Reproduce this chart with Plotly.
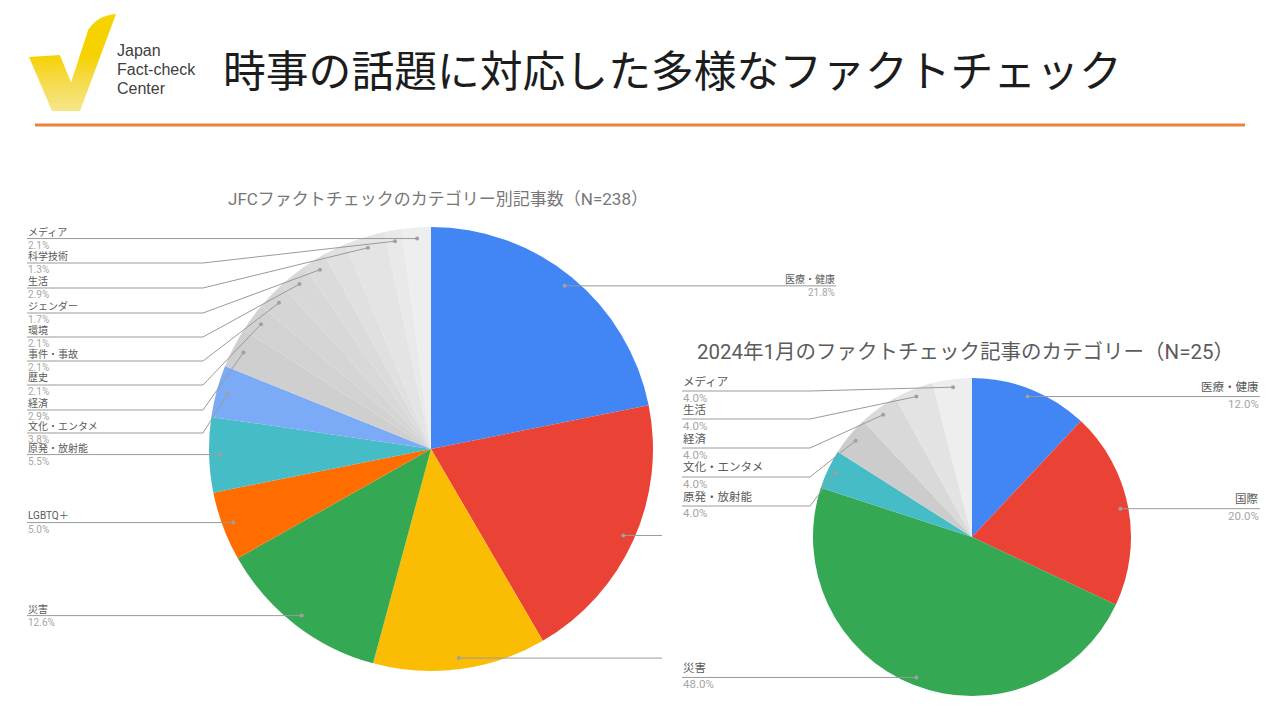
import math
import plotly.graph_objects as go

W, H = 1280, 720
OFF = 8  # the page body has an 8px margin

# ---------------- data ----------------
main_title = "時事の話題に対応した多様なファクトチェック"
logo_lines = ["Japan", "Fact-check", "Center"]

jfc_title = "JFCファクトチェックのカテゴリー別記事数（N=238）"
jfc_categories = ["医療・健康", "国際", "政治", "災害", "LGBTQ＋", "原発・放射能", "文化・エンタメ",
                  "経済", "歴史", "事件・事故", "環境", "ジェンダー", "その他", "生活", "科学技術", "メディア"]
jfc_counts = [52, 47, 30, 30, 12, 13, 9, 7, 5, 5, 5, 4, 4, 7, 3, 5]
jfc_colors = ["#4285F4", "#EA4335", "#FBBC04", "#34A853", "#FF6D01", "#46BDC6", "#7BAAF7",
              "#cfcfcf", "#d2d2d2", "#d5d5d5", "#d8d8d8", "#dbdbdb", "#e0e0e0", "#e4e4e4", "#e9e9e9", "#eeeeee"]

jan_title = "2024年1月のファクトチェック記事のカテゴリー（N=25）"
jan_categories = ["医療・健康", "国際", "災害", "原発・放射能", "文化・エンタメ", "経済", "生活", "メディア"]
jan_counts = [3, 5, 12, 1, 1, 1, 1, 1]
jan_colors = ["#4285F4", "#EA4335", "#34A853", "#46BDC6", "#cccccc", "#d9d9d9", "#e3e3e3", "#eeeeee"]

# label layout (pixel rows of the leader lines; None = straight from the slice dot)
jfc_left_rows = {"メディア": None, "科学技術": 263, "生活": 288, "ジェンダー": 313, "環境": 337,
                 "事件・事故": 361, "歴史": 385, "経済": 410, "文化・エンタメ": 433,
                 "原発・放射能": None, "LGBTQ＋": None, "災害": None}
jfc_right_rows = {"医療・健康": None}
jfc_clipped = ["国際", "政治"]  # their labels are hidden behind the second chart

jan_left_rows = {"メディア": 391, "生活": 419, "経済": 448, "文化・エンタメ": 477,
                 "原発・放射能": 506, "災害": None}
jan_right_rows = {"医療・健康": None, "国際": None}

# ---------------- helpers ----------------
def px(x):
    return (x - OFF) / W


def py(y):
    return 1 - (y - OFF) / H


fig = go.Figure()
shapes = []
annotations = []

LINE_C = "#9a9a9a"
NAME_C = "#5a5a5a"
PCT_C = "#a6a6a6"
FONT = "Roboto, 'Noto Sans CJK JP', sans-serif"


def txt(x, y, s, size, color, anchor="left", family=FONT):
    annotations.append(dict(x=px(x), y=py(y), text=s, showarrow=False, xref="paper", yref="paper",
                            xanchor=anchor, yanchor="middle", borderpad=0,
                            font=dict(size=size, color=color, family=family)))


def add_pie(cats, counts, colors, cx, cy, r, left_rows, right_rows, clipped,
            left_x, knee_x, right_x, clip_x, fsize, name_dy, pct_dy):
    fig.add_trace(go.Pie(
        labels=cats, values=counts, sort=False, direction="clockwise", rotation=0,
        marker=dict(colors=colors, line=dict(width=0)),
        textinfo="none", hoverinfo="label+percent", showlegend=False,
        domain=dict(x=[px(cx - r), px(cx + r)], y=[py(cy + r), py(cy - r)]),
    ))
    total = sum(counts)
    cum = 0
    for cat, v in zip(cats, counts):
        mid = (cum + v / 2) / total
        cum += v
        th = 2 * math.pi * mid
        rd = 0.95 * r
        dx_, dy_ = cx + rd * math.sin(th), cy - rd * math.cos(th)
        pct = f"{100 * v / total:.1f}%"
        if cat in left_rows:
            ly = left_rows[cat]
            if ly is None:
                path = f"M {px(left_x)} {py(dy_)} L {px(dx_)} {py(dy_)}"
                ly = dy_
            else:
                path = (f"M {px(left_x)} {py(ly)} L {px(knee_x)} {py(ly)} "
                        f"L {px(dx_)} {py(dy_)}")
            shapes.append(dict(type="path", path=path, xref="paper", yref="paper",
                               line=dict(color=LINE_C, width=1)))
            txt(left_x, ly - name_dy, cat, fsize, NAME_C)
            txt(left_x, ly + pct_dy, pct, fsize, PCT_C)
        elif cat in right_rows:
            ly = dy_
            shapes.append(dict(type="path", path=f"M {px(dx_)} {py(ly)} L {px(right_x)} {py(ly)}",
                               xref="paper", yref="paper", line=dict(color=LINE_C, width=1)))
            txt(right_x, ly - name_dy, cat, fsize, NAME_C, "right")
            txt(right_x, ly + pct_dy, pct, fsize, PCT_C, "right")
        elif cat in clipped:
            shapes.append(dict(type="path", path=f"M {px(dx_)} {py(dy_)} L {px(clip_x)} {py(dy_)}",
                               xref="paper", yref="paper", line=dict(color=LINE_C, width=1)))
        else:
            continue
        shapes.append(dict(type="circle", xref="paper", yref="paper",
                           x0=px(dx_ - 2), x1=px(dx_ + 2), y0=py(dy_ + 2), y1=py(dy_ - 2),
                           fillcolor="#a0a0a0", line=dict(width=0)))


add_pie(jfc_categories, jfc_counts, jfc_colors, 431, 449, 222,
        jfc_left_rows, jfc_right_rows, jfc_clipped,
        left_x=27, knee_x=203, right_x=836, clip_x=662, fsize=10, name_dy=7, pct_dy=6.5)
add_pie(jan_categories, jan_counts, jan_colors, 972, 537, 159,
        jan_left_rows, jan_right_rows, [],
        left_x=682, knee_x=810, right_x=1260, clip_x=1260, fsize=11.5, name_dy=9.5, pct_dy=7)

# chart titles
txt(438, 199, jfc_title, 17, "#777777", "center")
txt(965, 352, jan_title, 20.5, "#5c5c5c", "center")

# header
txt(222, 68, main_title, 42.8, "#1c1c1c", "left", "'Noto Sans CJK JP', sans-serif")
for i, t in enumerate(logo_lines):
    txt(116, 50 + 19 * i, t, 16, "#404040", "left", "Arial, 'Liberation Sans', sans-serif")

# logo check mark (yellow, fading towards the bottom)
shapes.append(dict(type="path", xref="paper", yref="paper", line=dict(width=0), fillcolor="#F6D200",
                   path=(f"M {px(29)} {py(57)} L {px(60)} {py(55)} L {px(71)} {py(82)} L {px(88)} {py(30)} "
                         f"Q {px(98)} {py(15)} {px(116)} {py(14)} L {px(80)} {py(111)} L {px(52)} {py(111)} Z")))


def left_edge(y):
    return 29 + (52 - 29) * (y - 57) / (111 - 57)


def right_edge(y):
    return 116 + (80 - 116) * (y - 14) / (111 - 14)


band_top = 58
n_bands = 20
y_bot = 111.5
for k in range(n_bands):
    y0 = band_top + k * (y_bot - band_top) / n_bands
    pts = [(left_edge(y0) - 1, y0), (right_edge(y0) + 1, y0),
           (right_edge(y_bot) + 1, y_bot), (left_edge(y_bot) - 1, y_bot)]
    path = " ".join(("M" if i == 0 else "L") + f" {px(x)} {py(y)}" for i, (x, y) in enumerate(pts)) + " Z"
    shapes.append(dict(type="path", xref="paper", yref="paper", line=dict(width=0),
                       fillcolor="rgba(255,255,255,0.04)", path=path))
# keep the notch between the arms white
shapes.append(dict(type="path", xref="paper", yref="paper", line=dict(width=0), fillcolor="white",
                   path=(f"M {px(60)} {py(55)} L {px(71)} {py(82)} L {px(88)} {py(30)} "
                         f"L {px(88)} {py(20)} L {px(60)} {py(20)} Z")))

# orange rule
shapes.append(dict(type="line", xref="paper", yref="paper", x0=px(35), x1=px(1245), y0=py(125), y1=py(125),
                   line=dict(color="#E8843A", width=3)))

fig.update_layout(
    width=W, height=H, margin=dict(l=0, r=0, t=0, b=0),
    paper_bgcolor="white", plot_bgcolor="white",
    shapes=shapes, annotations=annotations, showlegend=False,
)

fig.write_html("out.html")
